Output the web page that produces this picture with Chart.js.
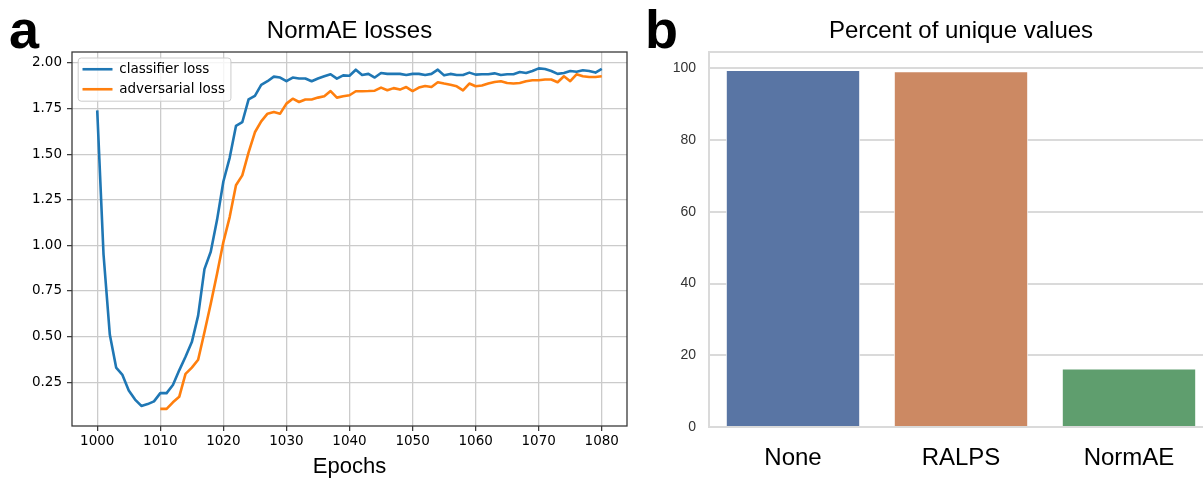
<!DOCTYPE html>
<html><head><meta charset="utf-8">
<script src="https://cdn.jsdelivr.net/npm/chart.js@4.4.1/dist/chart.umd.min.js"></script>
<style>
html,body{margin:0;padding:0;background:#fff;width:1203px;height:482px;overflow:hidden;position:relative}
#wa{position:absolute;left:0;top:0;width:640px;height:482px}
#wb{position:absolute;left:640px;top:0;width:600px;height:482px}
.panel{position:absolute;font-family:'Liberation Sans',Arial,sans-serif;font-weight:bold;font-size:54px;line-height:54px;color:#000}
</style></head><body>
<div id="wa"><canvas id="ca"></canvas></div>
<div id="wb"><canvas id="cb"></canvas></div>
<div class="panel" style="left:9px;top:2px">a</div>
<div class="panel" style="left:645px;top:2px">b</div>
<script>
// ---------- Panel a data ----------
const epochs = [1000,1001,1002,1003,1004,1005,1006,1007,1008,1009,
  1010,1011,1012,1013,1014,1015,1016,1017,1018,1019,
  1020,1021,1022,1023,1024,1025,1026,1027,1028,1029,
  1030,1031,1032,1033,1034,1035,1036,1037,1038,1039,
  1040,1041,1042,1043,1044,1045,1046,1047,1048,1049,
  1050,1051,1052,1053,1054,1055,1056,1057,1058,1059,
  1060,1061,1062,1063,1064,1065,1066,1067,1068,1069,
  1070,1071,1072,1073,1074,1075,1076,1077,1078,1079,1080];
const classifierLoss = [1.74,0.95,0.51,0.33,0.29,0.205,0.155,0.12,0.13,0.145,
  0.19,0.19,0.235,0.315,0.39,0.47,0.615,0.87,0.965,1.14,
  1.35,1.48,1.655,1.675,1.80,1.82,1.88,1.90,1.925,1.92,
  1.90,1.92,1.915,1.915,1.90,1.915,1.927,1.938,1.914,1.932,
  1.93,1.963,1.934,1.94,1.92,1.945,1.94,1.94,1.94,1.934,
  1.94,1.94,1.934,1.94,1.963,1.932,1.94,1.934,1.934,1.947,
  1.936,1.938,1.938,1.943,1.934,1.938,1.938,1.95,1.945,1.956,
  1.97,1.967,1.956,1.94,1.945,1.956,1.952,1.96,1.956,1.947,1.967];
const adversarialEpochs = [1010,1011,1012,1013,1014,1015,1016,1017,1018,1019,
  1020,1021,1022,1023,1024,1025,1026,1027,1028,1029,
  1030,1031,1032,1033,1034,1035,1036,1037,1038,1039,
  1040,1041,1042,1043,1044,1045,1046,1047,1048,1049,
  1050,1051,1052,1053,1054,1055,1056,1057,1058,1059,
  1060,1061,1062,1063,1064,1065,1066,1067,1068,1069,
  1070,1071,1072,1073,1074,1075,1076,1077,1078,1079,1080];
const adversarialLoss = [0.104,0.104,0.14,0.17,0.296,0.33,0.373,0.524,0.68,0.845,
  1.018,1.155,1.33,1.384,1.51,1.62,1.68,1.722,1.731,1.722,
  1.777,1.804,1.786,1.80,1.80,1.81,1.817,1.846,1.81,1.817,
  1.823,1.845,1.845,1.846,1.848,1.865,1.85,1.862,1.854,1.868,
  1.846,1.865,1.874,1.868,1.894,1.887,1.881,1.872,1.85,1.887,
  1.872,1.876,1.887,1.896,1.90,1.89,1.887,1.89,1.90,1.905,
  1.905,1.909,1.909,1.894,1.927,1.90,1.938,1.927,1.923,1.923,1.927];
const epochTicks = [1000,1010,1020,1030,1040,1050,1060,1070,1080];
const lossTicks = [0.25,0.50,0.75,1.00,1.25,1.50,1.75,2.00];

// ---------- Panel b data ----------
const methods = ['None','RALPS','NormAE'];
const uniquePercent = [99.6,99.2,16.3];
const percentTicks = [0,20,40,60,80,100];
const methodColors = ['#5975a4','#cc8963','#5f9e6e'];

// ---------- plugins ----------
const frameA = {
  id:'frameA',
  afterDatasetsDraw(chart){
    const {ctx, chartArea:a} = chart;
    ctx.save(); ctx.strokeStyle='#3a3a3a'; ctx.lineWidth=1.3;
    ctx.strokeRect(a.left, a.top, a.right-a.left, a.bottom-a.top);
    ctx.restore();
  }
};
const LEG_PAD = 6.5, LEG_FONT = 13.5, LEG_W = 30;
const legendPlace = {
  id:'legendPlace',
  afterLayout(chart){
    const lg = chart.legend, a = chart.chartArea;
    if(!lg) return;
    lg.left = a.left + 4; lg.top = a.top + 4; lg.right = a.right; lg.bottom = a.bottom;
    if(!lg._boxPatched){
      const orig = lg.draw.bind(lg);
      lg.draw = function(area){
        const ctx = chart.ctx;
        const x0 = lg.left + LEG_PAD, y0 = lg.top + LEG_PAD;
        ctx.save();
        ctx.font = LEG_FONT + 'px "DejaVu Sans"';
        let tw = 0;
        (lg.legendItems||[]).forEach(it => { tw = Math.max(tw, ctx.measureText(it.text).width); });
        const n = (lg.legendItems||[]).length;
        const L = x0 - 4.3, T = y0 - 4.5;
        const R = x0 + LEG_W + LEG_FONT/2 + tw + 6;
        const B = y0 + n*LEG_FONT + (n-1)*LEG_PAD + 5.2;
        ctx.beginPath();
        if (ctx.roundRect) ctx.roundRect(L, T, R-L, B-T, 3); else ctx.rect(L, T, R-L, B-T);
        ctx.fillStyle = 'rgba(255,255,255,0.8)'; ctx.fill();
        ctx.strokeStyle = '#cccccc'; ctx.lineWidth = 1; ctx.stroke();
        ctx.restore();
        orig(area);
      };
      lg._boxPatched = true;
    }
  }
};
const frameB = {
  id:'frameB',
  afterDatasetsDraw(chart){
    const {ctx, chartArea:a} = chart;
    ctx.save(); ctx.strokeStyle='#dadada'; ctx.lineWidth=2;
    ctx.strokeRect(a.left, a.top, a.right-a.left, a.bottom-a.top);
    ctx.restore();
  }
};

// ---------- Chart a ----------
new Chart(document.getElementById('ca'), {
  type:'line',
  data:{
    datasets:[
      {label:'classifier loss', data: epochs.map((e,i)=>({x:e,y:classifierLoss[i]})),
       borderColor:'#1f77b4', backgroundColor:'#1f77b4', borderWidth:2.6, pointRadius:0, tension:0, fill:false, borderJoinStyle:'round'},
      {label:'adversarial loss', data: adversarialEpochs.map((e,i)=>({x:e,y:adversarialLoss[i]})),
       borderColor:'#ff7f0e', backgroundColor:'#ff7f0e', borderWidth:2.6, pointRadius:0, tension:0, fill:false, borderJoinStyle:'round'}
    ]
  },
  options:{
    responsive:true, maintainAspectRatio:false, animation:false, devicePixelRatio:1,
    layout:{padding:{left:0,right:13,top:0,bottom:0}},
    plugins:{
      title:{display:true, text:'NormAE losses', fullSize:false, color:'#000',
        font:{family:'"Liberation Sans", Arial, sans-serif', size:24, weight:'normal'}, padding:{top:17,bottom:6.2}},
      legend:{display:true, position:'chartArea', align:'start',
        labels:{usePointStyle:true, pointStyle:'line', pointStyleWidth:LEG_W, padding:LEG_PAD, color:'#000',
          font:{family:'"DejaVu Sans"', size:LEG_FONT}}},
      tooltip:{enabled:false}
    },
    scales:{
      x:{type:'linear', position:'bottom', min:996, max:1084,
        afterBuildTicks:s=>{ s.ticks = epochTicks.map(v=>({value:v})); },
        afterFit:s=>{ s.height = 56; },
        grid:{color:'#cbcbcb', lineWidth:1.3, drawTicks:true, tickLength:5, tickColor:'#333', tickWidth:1.2},
        border:{display:false},
        ticks:{color:'#000', padding:2, maxRotation:0, autoSkip:false, font:{family:'"DejaVu Sans"', size:13.5},
          callback:v=>String(v)},
        title:{display:true, text:'Epochs', color:'#000', font:{family:'"Liberation Sans", Arial, sans-serif', size:22}, padding:{top:0,bottom:2}}
      },
      y:{type:'linear', min:0.01, max:2.06,
        afterBuildTicks:s=>{ s.ticks = lossTicks.map(v=>({value:v})); },
        afterFit:s=>{ s.width = 72; },
        grid:{color:'#cbcbcb', lineWidth:1.3, drawTicks:true, tickLength:5, tickColor:'#333', tickWidth:1.2},
        border:{display:false},
        ticks:{color:'#000', padding:5, autoSkip:false, font:{family:'"DejaVu Sans"', size:13.5},
          callback:v=>Number(v).toFixed(2)}
      }
    }
  },
  plugins:[frameA, legendPlace]
});

// ---------- Chart b ----------
new Chart(document.getElementById('cb'), {
  type:'bar',
  data:{
    labels: methods,
    datasets:[{label:'Percent of unique values', data: uniquePercent, backgroundColor: methodColors,
      borderColor:'#ffffff', borderWidth:1, categoryPercentage:1, barPercentage:0.8}]
  },
  options:{
    responsive:true, maintainAspectRatio:false, animation:false, devicePixelRatio:1,
    layout:{padding:{left:0,right:27,top:0,bottom:0}},
    plugins:{
      title:{display:true, text:'Percent of unique values', fullSize:false, color:'#000',
        font:{family:'"Liberation Sans", Arial, sans-serif', size:24, weight:'normal'}, padding:{top:17,bottom:6.2}},
      legend:{display:false},
      tooltip:{enabled:false}
    },
    scales:{
      x:{type:'category', offset:true,
        afterFit:s=>{ s.height = 55; },
        grid:{display:false, drawTicks:false},
        border:{display:false},
        ticks:{color:'#000', padding:17, font:{family:'"Liberation Sans", Arial, sans-serif', size:24}}
      },
      y:{type:'linear', min:0, max:104.6,
        afterBuildTicks:s=>{ s.ticks = percentTicks.map(v=>({value:v})); },
        afterFit:s=>{ s.width = 69; },
        grid:{color:'#dadada', lineWidth:2, drawTicks:false},
        border:{display:false},
        ticks:{color:'#333', padding:13, autoSkip:false, font:{family:'"Liberation Sans", Arial, sans-serif', size:14}}
      }
    }
  },
  plugins:[frameB]
});
</script></body></html>
